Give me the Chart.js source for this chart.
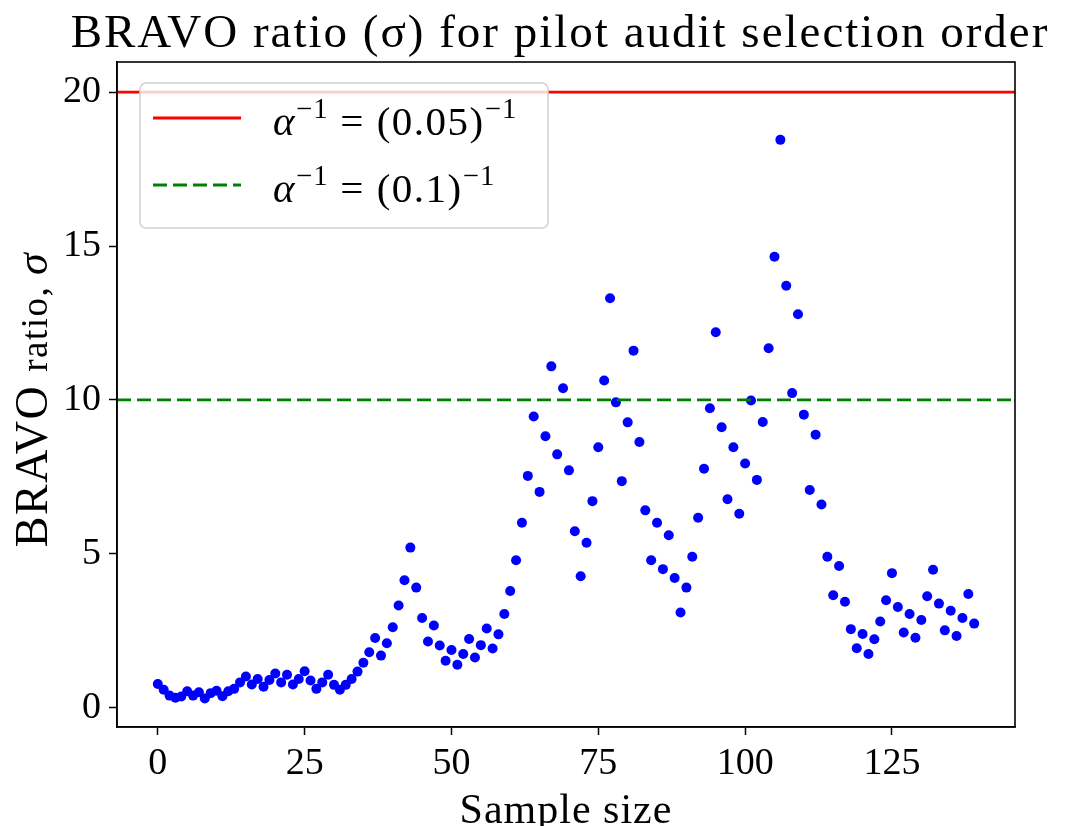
<!DOCTYPE html>
<html>
<head>
<meta charset="utf-8">
<title>BRAVO ratio</title>
<script src="https://cdn.jsdelivr.net/npm/chart.js@4.4.1/dist/chart.umd.min.js"></script>
<style>
  html, body { margin: 0; padding: 0; background: #fff; }
  #wrap { width: 1065px; height: 826px; position: relative; }
</style>
</head>
<body>
<div id="wrap"><canvas id="bravoChart"></canvas></div>
<script>
// BRAVO ratio after each ballot drawn, in pilot audit selection order
const bravoRatio = [
  0.77, 0.58, 0.39, 0.32, 0.36, 0.53, 0.39, 0.50, 0.30, 0.47,
  0.55, 0.37, 0.53, 0.61, 0.82, 1.01, 0.75, 0.93, 0.68, 0.90,
  1.11, 0.82, 1.07, 0.75, 0.93, 1.18, 0.88, 0.61, 0.82, 1.07,
  0.74, 0.58, 0.74, 0.93, 1.17, 1.46, 1.80, 2.26, 1.69, 2.09,
  2.61, 3.32, 4.14, 5.20, 3.90, 2.91, 2.15, 2.67, 2.02, 1.52,
  1.87, 1.39, 1.74, 2.23, 1.63, 2.03, 2.57, 1.92, 2.38, 3.04,
  3.79, 4.79, 6.01, 7.53, 9.46, 7.01, 8.82, 11.09, 8.23, 10.38,
  7.71, 5.73, 4.27, 5.36, 6.71, 8.46, 10.63, 13.30, 9.92, 7.36,
  9.27, 11.60, 8.63, 6.41, 4.79, 6.01, 4.50, 5.60, 4.21, 3.09,
  3.90, 4.90, 6.17, 7.76, 9.73, 12.20, 9.11, 6.77, 8.46, 6.30,
  7.93, 9.98, 7.40, 9.28, 11.68, 14.65, 18.45, 13.71, 10.22, 12.78,
  9.52, 7.07, 8.87, 6.60, 4.90, 3.65, 4.60, 3.44, 2.55, 1.93,
  2.39, 1.74, 2.22, 2.80, 3.49, 4.37, 3.27, 2.44, 3.04, 2.27,
  2.85, 3.62, 4.48, 3.38, 2.51, 3.15, 2.33, 2.91, 3.69, 2.73
];

// Risk limits and their legend labels
const alphaLevels = [0.05, 0.1];
const alphaLabels = ["α⁻¹ = (0.05)⁻¹", "α⁻¹ = (0.1)⁻¹"];
const alphaColors = ["#ff0000", "#008000"];

// Axis ticks and limits
const xTicks = [0, 25, 50, 75, 100, 125];
const yTicks = [0, 5, 10, 15, 20];
const xLimits = [-6.95, 145.95];
const yLimits = [-0.63, 20.98];

const SERIF = '"Liberation Serif", "DejaVu Serif", serif';

// Threshold lines run across the whole x range
const thresholdSets = alphaLevels.map((a, i) => ({
  label: alphaLabels[i],
  data: [{ x: xLimits[0], y: 1 / a }, { x: xLimits[1], y: 1 / a }],
  showLine: true,
  borderColor: alphaColors[i],
  borderWidth: 2.8,
  borderDash: i === 1 ? [14, 6] : [],
  pointRadius: 0,
  order: 0,
}));

// Draw text, turning superscript characters into raised small glyphs
const SUPER = { "⁻": "−", "¹": "1" };
function drawMath(ctx, text, x, y, size) {
  let cx = x;
  for (const ch of text) {
    if (SUPER[ch]) {
      ctx.font = `${size * 0.7}px ${SERIF}`;
      ctx.fillText(SUPER[ch], cx, y - size * 0.42);
      cx += ctx.measureText(SUPER[ch]).width + 1;
    } else {
      ctx.font = (ch === "α" ? "italic " : "") + `${size}px ${SERIF}`;
      ctx.fillText(ch, cx, y);
      cx += ctx.measureText(ch).width + 1.5;
    }
  }
}

// Frame, title, axis titles and legend box
const decorations = {
  id: "decorations",
  afterDatasetsDraw(chart) {
    const ctx = chart.ctx;
    const area = chart.chartArea;
    ctx.save();

    // Legend
    const bx = area.left + 23, by = area.top + 21, bw = 408, bh = 145;
    ctx.beginPath();
    ctx.roundRect(bx, by, bw, bh, 6);
    ctx.fillStyle = "rgba(255,255,255,0.8)";
    ctx.fill();
    ctx.strokeStyle = "#d0d0d0";
    ctx.lineWidth = 1.5;
    ctx.stroke();
    thresholdSets.forEach((ds, i) => {
      const ly = by + 35 + i * 67;
      ctx.beginPath();
      ctx.setLineDash(ds.borderDash);
      ctx.strokeStyle = ds.borderColor;
      ctx.lineWidth = ds.borderWidth;
      ctx.moveTo(bx + 13, ly);
      ctx.lineTo(bx + 101, ly);
      ctx.stroke();
      ctx.setLineDash([]);
      ctx.fillStyle = "#000";
      ctx.textBaseline = "alphabetic";
      ctx.textAlign = "left";
      drawMath(ctx, ds.label, bx + 133, ly + 17, 41);
    });

    // Box around the plot
    ctx.strokeStyle = "#000";
    ctx.lineWidth = 1.6;
    ctx.strokeRect(area.left, area.top, area.right - area.left, area.bottom - area.top);

    // Title
    ctx.fillStyle = "#000";
    ctx.textAlign = "center";
    ctx.textBaseline = "alphabetic";
    ctx.font = `47px ${SERIF}`;
    ctx.letterSpacing = "2px";
    ctx.fillText("BRAVO ratio (σ) for pilot audit selection order", 560, 47);

    // X axis title
    ctx.font = `42px ${SERIF}`;
    ctx.letterSpacing = "1px";
    ctx.fillText("Sample size", (area.left + area.right) / 2, 823);

    // Y axis title, with a smaller "ratio"
    ctx.translate(47, (area.top + area.bottom) / 2 + 5);
    ctx.rotate(-Math.PI / 2);
    ctx.letterSpacing = "1.5px";
    const parts = [
      { t: "BRAVO ", f: `46px ${SERIF}` },
      { t: "ratio, ", f: `37px ${SERIF}` },
      { t: "σ", f: `italic 44px ${SERIF}` },
    ];
    let total = 0;
    parts.forEach(p => { ctx.font = p.f; total += ctx.measureText(p.t).width; });
    let px = -total / 2;
    ctx.textAlign = "left";
    parts.forEach(p => {
      ctx.font = p.f;
      ctx.fillText(p.t, px, 0);
      px += ctx.measureText(p.t).width;
    });
    ctx.restore();
  },
};

const tickStyle = {
  color: "#000",
  font: { family: SERIF, size: 38 },
};

new Chart(document.getElementById("bravoChart"), {
  type: "scatter",
  data: {
    datasets: [
      ...thresholdSets,
      {
        label: "BRAVO ratio",
        data: bravoRatio.map((v, i) => ({ x: i, y: v })),
        backgroundColor: "#0000ff",
        borderColor: "#0000ff",
        pointRadius: 5,
        borderWidth: 0,
        order: 1,
      },
    ],
  },
  options: {
    responsive: true,
    maintainAspectRatio: false,
    animation: false,
    layout: { padding: { left: 0, top: 62, right: 50, bottom: 0 } },
    plugins: {
      legend: { display: false },
      tooltip: { enabled: false },
    },
    scales: {
      x: {
        type: "linear",
        min: xLimits[0],
        max: xLimits[1],
        afterBuildTicks: s => { s.ticks = xTicks.map(v => ({ value: v })); },
        afterFit: s => { s.height = 99; },
        grid: { drawOnChartArea: false, tickLength: 8, tickColor: "#000", tickWidth: 1.5 },
        border: { color: "#000", width: 1.6 },
        ticks: { ...tickStyle, padding: 6, maxRotation: 0 },
      },
      y: {
        type: "linear",
        min: yLimits[0],
        max: yLimits[1],
        afterBuildTicks: s => { s.ticks = yTicks.map(v => ({ value: v })); },
        afterFit: s => { s.width = 117; },
        grid: { drawOnChartArea: false, tickLength: 8, tickColor: "#000", tickWidth: 1.5 },
        border: { color: "#000", width: 1.6 },
        ticks: { ...tickStyle, padding: 8 },
      },
    },
  },
  plugins: [decorations],
});
</script>
</body>
</html>
